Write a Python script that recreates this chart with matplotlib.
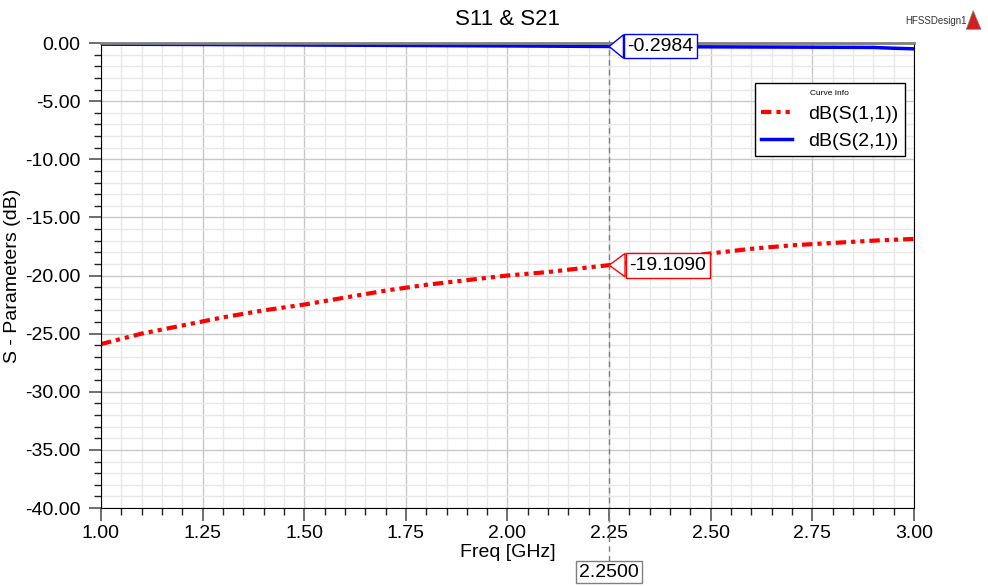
import numpy as np
import matplotlib.pyplot as plt
from matplotlib.patches import Polygon
from matplotlib.ticker import MultipleLocator, FormatStrFormatter

plt.rcParams['font.family'] = ['Liberation Sans', 'DejaVu Sans']

# S11
freq_s11 = [1.0, 1.1, 1.2, 1.3, 1.4, 1.5, 1.6, 1.7, 1.8, 1.9, 2.0,
            2.1, 2.2, 2.25, 2.3, 2.4, 2.5, 2.6, 2.7, 2.8, 2.9, 3.0]
s11_db = [-25.9, -25.0, -24.3, -23.6, -23.0, -22.5, -21.9, -21.3, -20.8, -20.4, -20.0,
          -19.7, -19.3, -19.109, -18.9, -18.5, -18.1, -17.7, -17.4, -17.2, -17.0, -16.85]

# S21
freq_s21 = [1.0, 1.25, 1.5, 1.75, 2.0, 2.25, 2.5, 2.75, 2.9, 2.95, 3.0]
s21_db = [-0.10, -0.13, -0.17, -0.21, -0.25, -0.2984, -0.33, -0.36, -0.38, -0.45, -0.50]

marker_x = 2.25
marker_s21 = -0.2984
marker_s11 = -19.1090

fig = plt.figure(figsize=(9.88, 5.86), dpi=100)
ax = fig.add_axes([0.1022, 0.1331, 0.8229, 0.7935])

ax.plot(freq_s11, s11_db, color='#ff0000', lw=3, dashes=(2.5, 1.2, 1, 1.2, 1, 1.2), label='dB(S(1,1))')
ax.plot(freq_s21, s21_db, color='#0000ff', lw=2.5, label='dB(S(2,1))')

ax.set_xlim(1.0, 3.0)
ax.set_ylim(-40, 0)
ax.xaxis.set_major_locator(MultipleLocator(0.25))
ax.xaxis.set_minor_locator(MultipleLocator(0.05))
ax.yaxis.set_major_locator(MultipleLocator(5))
ax.yaxis.set_minor_locator(MultipleLocator(1))
ax.xaxis.set_major_formatter(FormatStrFormatter('%.2f'))
ax.yaxis.set_major_formatter(FormatStrFormatter('%.2f'))
ax.grid(which='major', color='#c8c8c8', lw=1)
ax.grid(which='minor', color='#e8e8e8', lw=1)
ax.set_axisbelow(True)
ax.tick_params(which='major', length=9, width=1.2, color='#555555', labelsize=14)
ax.tick_params(axis='y', which='major', pad=6)
ax.tick_params(which='minor', length=5, width=1, color='#222222')
ax.spines['top'].set_color('#808080')
ax.spines['top'].set_linewidth(2)

ax.set_title('S11 & S21', fontsize=16, pad=13)
ax.set_xlabel('Freq [GHz]', fontsize=14, labelpad=1)
ax.set_ylabel('S - Parameters (dB)', fontsize=14)
ax.yaxis.set_label_coords(-0.098, 0.5)

# marker line
ax.axvline(marker_x, ymin=-0.115, ymax=1.01, color='#808080', lw=1, ls=(0, (4, 3)), clip_on=False)
ax.annotate('-0.2984', xy=(marker_x, marker_s21), xytext=(marker_x + 0.045, marker_s21),
            fontsize=14, va='center', ha='left',
            bbox=dict(boxstyle='square,pad=0.18', fc='white', ec='#0000ff', lw=1),
            arrowprops=dict(arrowstyle='wedge,tail_width=1.2', fc='white', ec='#0000ff', lw=1,
                            shrinkA=0, shrinkB=0))
ax.annotate('-19.1090', xy=(marker_x, marker_s11), xytext=(marker_x + 0.05, marker_s11),
            fontsize=14, va='center', ha='left',
            bbox=dict(boxstyle='square,pad=0.2', fc='white', ec='#ff0000', lw=1),
            arrowprops=dict(arrowstyle='wedge,tail_width=1.2', fc='white', ec='#ff0000', lw=1,
                            shrinkA=0, shrinkB=0))
ax.annotate('2.2500', xy=(marker_x, 0), xycoords=('data', 'axes fraction'),
            xytext=(0, -64), textcoords='offset pixels', fontsize=14, ha='center', va='center',
            bbox=dict(boxstyle='square,pad=0.15', fc='white', ec='#808080', lw=1),
            annotation_clip=False)

leg = ax.legend(loc='upper right', bbox_to_anchor=(0.989, 0.914), borderaxespad=0,
                title='Curve Info', fontsize=14, title_fontsize=6, fancybox=False,
                framealpha=1, edgecolor='black', handlelength=1.6, borderpad=0.35,
                labelspacing=0.45)
leg.get_frame().set_linewidth(1)

fig.text(0.916, 0.965, 'HFSSDesign1', fontsize=7, color='#333333', va='center')
fig.patches.append(Polygon([[0.978, 0.950], [0.993, 0.950], [0.985, 0.982]], closed=True,
                           transform=fig.transFigure, fc='#d02020', ec='#888888', lw=0.5))

fig.savefig('out.png', dpi=100)
